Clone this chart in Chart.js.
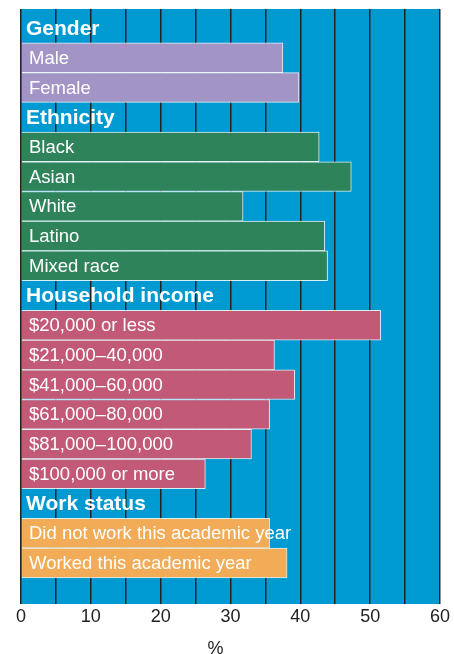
<!DOCTYPE html>
<html>
<head>
<meta charset="utf-8">
<script src="https://cdn.jsdelivr.net/npm/chart.js@4.4.0/dist/chart.umd.min.js"></script>
<style>
  body { margin: 0; background: #fff; }
  #wrap { width: 454px; height: 654px; }
</style>
</head>
<body>
<div id="wrap"><canvas id="chart"></canvas></div>
<script>
// rows top to bottom, headings have no value
const rowLabels = [
  'Gender', 'Male', 'Female',
  'Ethnicity', 'Black', 'Asian', 'White', 'Latino', 'Mixed race',
  'Household income', '$20,000 or less', '$21,000–40,000', '$41,000–60,000',
  '$61,000–80,000', '$81,000–100,000', '$100,000 or more',
  'Work status', 'Did not work this academic year', 'Worked this academic year'
];
const headingRows = [0, 3, 9, 16];
const rowGroups = [0, 0, 0, 1, 1, 1, 1, 1, 1, 2, 2, 2, 2, 2, 2, 2, 3, 3, 3];
const percentValues = [
  null, 37.5, 39.8,
  null, 42.7, 47.3, 31.8, 43.5, 43.9,
  null, 51.5, 36.3, 39.2, 35.6, 33.0, 26.4,
  null, 35.6, 38.1
];
const xTicks = [0, 10, 20, 30, 40, 50, 60];
const groupColors = ['#a295c6', '#2f835b', '#c25a77', '#f2ab57'];

const bars = [];
const barColors = [];
percentValues.forEach((v, i) => {
  if (v === null) return;
  bars.push({ x: v, y: i });
  barColors.push(groupColors[rowGroups[i]]);
});

const fontFamily = '"Liberation Sans", Arial, sans-serif';

// blue plot background
const plotBg = {
  id: 'plotBg',
  beforeDraw(chart) {
    const { ctx, chartArea } = chart;
    ctx.save();
    ctx.fillStyle = '#009ad2';
    ctx.fillRect(chartArea.left, chartArea.top, chartArea.right - chartArea.left, chartArea.bottom - chartArea.top);
    ctx.restore();
  },
};

// row labels drawn inside the bars
const rowText = {
  id: 'rowText',
  afterDatasetsDraw(chart) {
    const { ctx } = chart;
    const xs = chart.scales.x;
    const ys = chart.scales.y;
    ctx.save();
    ctx.fillStyle = '#fff';
    ctx.textBaseline = 'middle';
    rowLabels.forEach((label, i) => {
      const y = ys.getPixelForValue(i) + 1;
      if (headingRows.includes(i)) {
        ctx.font = 'bold 21px ' + fontFamily;
        ctx.fillText(label, xs.left + 5, y);
      } else {
        ctx.font = '18.5px ' + fontFamily;
        ctx.fillText(label, xs.left + 8, y);
      }
    });
    ctx.restore();
  },
};

new Chart(document.getElementById('chart'), {
  type: 'bar',
  data: {
    datasets: [{
      data: bars,
      backgroundColor: barColors,
      borderColor: 'rgba(255,255,255,0.85)',
      borderWidth: 1,
      barPercentage: 1,
      categoryPercentage: 1,
    }],
  },
  options: {
    indexAxis: 'y',
    responsive: true,
    maintainAspectRatio: false,
    animation: false,
    layout: { padding: { top: 9, right: 12, left: 21, bottom: -4 } },
    plugins: { legend: { display: false }, tooltip: { enabled: false } },
    scales: {
      x: {
        type: 'linear',
        min: 0,
        max: 60,
        border: { display: false },
        grid: { color: '#222', lineWidth: 1.5, drawTicks: false },
        ticks: {
          stepSize: 5,
          autoSkip: false,
          maxRotation: 0,
          padding: 4,
          color: '#222',
          font: { family: fontFamily, size: 18, lineHeight: 1 },
          callback: (v) => (xTicks.includes(v) ? String(v) : ''),
        },
        title: {
          display: true,
          text: '%      ',
          color: '#222',
          padding: { top: 10, bottom: 0 },
          font: { family: fontFamily, size: 18, lineHeight: 1 },
        },
      },
      y: {
        type: 'linear',
        display: false,
        reverse: true,
        offset: false,
        min: -0.64,
        max: 19.38,
        afterBuildTicks: (scale) => {
          scale.ticks = rowLabels.map((_, i) => ({ value: i }));
        },
      },
    },
  },
  plugins: [plotBg, rowText],
});
</script>
</body>
</html>
